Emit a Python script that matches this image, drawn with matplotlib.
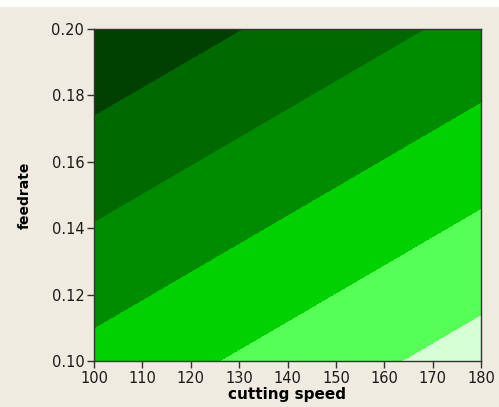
import numpy as np
import matplotlib
matplotlib.use('Agg')
import matplotlib.pyplot as plt
from matplotlib.patches import Rectangle

# corner grid of the fitted response
speed = [100, 180]
feed = [0.10, 0.20]
response = [[0.100, 0.032],   # feed = 0.10
             [0.200, 0.132]]  # feed = 0.20

levels = [0.0, 0.046, 0.078, 0.110, 0.142, 0.174, 0.25]
colors = ['#d6ffd6', '#55ff55', '#00d200', '#008c00', '#006a00', '#004000']

bg = '#efebe0'

fg = plt.figure(figsize=(4.99, 4.07), dpi=100, facecolor=bg)
ax = fg.add_axes([94/499, 46/407, 387/499, 332/407])

X, Y = np.meshgrid(speed, feed)
ax.contourf(X, Y, np.array(response), levels=levels, colors=colors, antialiased=False)

ax.set_xlim(100, 180)
ax.set_ylim(0.10, 0.20)
ax.set_xticks(np.arange(100, 181, 10))
ax.set_yticks(np.arange(0.10, 0.201, 0.02))
ax.set_yticklabels([f'{v:.2f}' for v in np.arange(0.10, 0.201, 0.02)])

for s in ax.spines.values():
    s.set_color('#333333')
    s.set_linewidth(1.0)
ax.tick_params(direction='out', length=5, width=1, colors='#333333',
               labelcolor='#1a1a1a', labelsize=10.5, pad=2, top=False, right=False)

ax.set_xlabel('cutting speed', fontsize=11, fontweight='bold', labelpad=1)
ax.set_ylabel('feedrate', fontsize=10, fontweight='bold', labelpad=14)

# white strip at the top edge of the picture
fg.patches.append(Rectangle((0, 1 - 7/407), 1, 7/407, transform=fg.transFigure,
                            facecolor='white', edgecolor='none', zorder=-1))

fg.savefig('out.png', dpi=100, facecolor=bg)
